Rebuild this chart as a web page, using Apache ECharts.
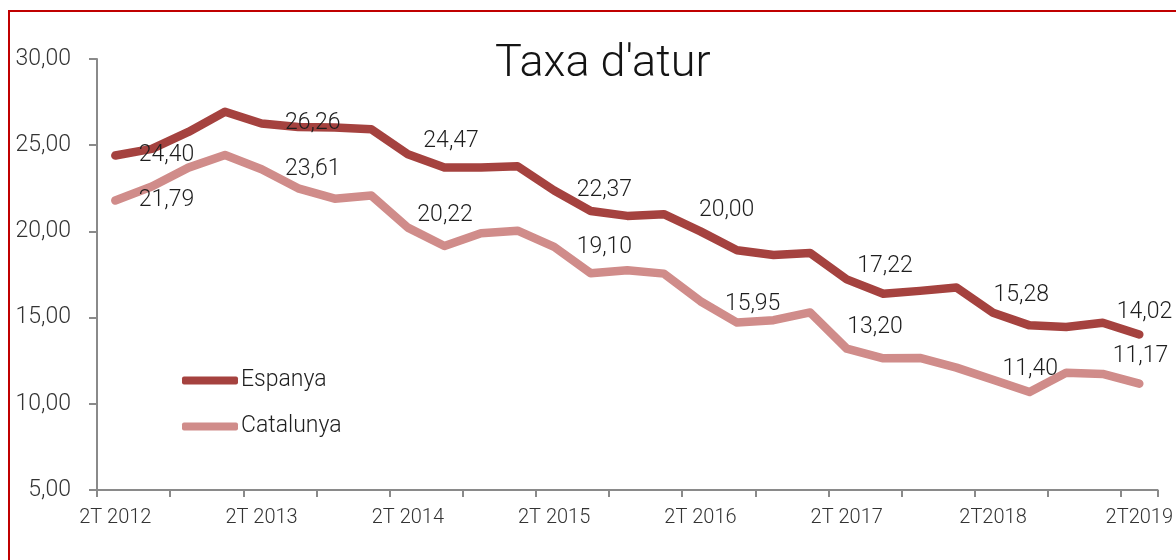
<!DOCTYPE html>
<html>
<head>
<meta charset="utf-8">
<script src="https://cdn.jsdelivr.net/npm/echarts@6/dist/echarts.min.js"></script>
<style>
  html, body { margin: 0; padding: 0; background: #fff; }
  #main { width: 1176px; height: 560px; }
</style>
</head>
<body>
<div id="main"></div>
<script>
// quarters from 2T 2012 to 2T 2019
var quarters = [
  "2T 2012", "3T 2012", "4T 2012", "1T 2013",
  "2T 2013", "3T 2013", "4T 2013", "1T 2014",
  "2T 2014", "3T 2014", "4T 2014", "1T 2015",
  "2T 2015", "3T 2015", "4T 2015", "1T 2016",
  "2T 2016", "3T 2016", "4T 2016", "1T 2017",
  "2T 2017", "3T 2017", "4T 2017", "1T2018",
  "2T2018", "3T2018", "4T2018", "1T2019",
  "2T2019"
];
var espanya = [
  24.40, 24.79, 25.77, 26.94,
  26.26, 26.06, 26.03, 25.93,
  24.47, 23.70, 23.70, 23.78,
  22.37, 21.18, 20.90, 21.00,
  20.00, 18.91, 18.63, 18.75,
  17.22, 16.38, 16.55, 16.74,
  15.28, 14.55, 14.45, 14.70,
  14.02
];
var catalunya = [
  21.79, 22.60, 23.70, 24.43,
  23.61, 22.50, 21.90, 22.08,
  20.22, 19.15, 19.89, 20.04,
  19.10, 17.57, 17.75, 17.55,
  15.95, 14.71, 14.85, 15.30,
  13.20, 12.64, 12.66, 12.10,
  11.40, 10.68, 11.80, 11.73,
  11.17
];
var yTicks = { min: 5, max: 30, step: 5 };

var FONT = "Roboto, 'Liberation Sans', sans-serif";

function fmt(v) {
  return v.toFixed(2).replace(".", ",");
}

// hand placed data labels (every 2T), shift of the label from its point
var labelShift = {
  Espanya: { 0: [23, 0], 4: [23, 0], 8: [15, -13], 12: [22, 0], 16: [-2, -21], 20: [10, -13], 24: [0, -18], 28: [-23, -22] },
  Catalunya: { 0: [23, 0], 4: [23, 0], 8: [9, -12], 12: [22, 0], 16: [24, 3], 20: [0, -21], 24: [9, -10], 28: [-27, -27] }
};

function buildData(name, values) {
  return values.map(function (v, i) {
    var s = labelShift[name][i];
    return {
      value: v,
      label: s ? { show: true, offset: s } : { show: false }
    };
  });
}

function lineSeries(name, values, color) {
  return {
    name: name,
    type: "line",
    data: buildData(name, values),
    symbol: "circle",
    symbolSize: 1,
    itemStyle: { color: color, opacity: 1, borderWidth: 0 },
    lineStyle: { color: color, width: 8.5, cap: "round", join: "round" },
    label: {
      position: "right",
      distance: 0,
      formatter: function (p) { return fmt(p.value); },
      fontFamily: FONT,
      fontWeight: 300,
      fontSize: 23,
      color: "#1e1e1e"
    },
    emphasis: { disabled: true },
    animation: false
  };
}

var chart = echarts.init(document.getElementById("main"), null, { renderer: "canvas" });

var option = {
  backgroundColor: "#ffffff",
  animation: false,
  title: {
    text: "Taxa d'atur",
    left: 490,
    top: 37,
    textStyle: {
      fontFamily: FONT,
      fontWeight: 300,
      fontSize: 45,
      color: "#141414"
    }
  },
  legend: {
    orient: "vertical",
    left: 182,
    top: 369,
    padding: 0,
    itemGap: 23,
    itemWidth: 56,
    itemHeight: 8,
    icon: "roundRect",
    data: ["Espanya", "Catalunya"],
    textStyle: {
      fontFamily: FONT,
      fontWeight: 300,
      fontSize: 23,
      color: "#1e1e1e",
      padding: [0, 0, 0, -2]
    }
  },
  grid: { left: 97, right: 18, top: 59, bottom: 70, containLabel: false },
  xAxis: {
    type: "category",
    data: quarters,
    boundaryGap: true,
    axisLine: { lineStyle: { color: "#8a8a8a", width: 2 } },
    axisTick: { show: true, interval: 1, length: 7, lineStyle: { color: "#8a8a8a", width: 2 } },
    axisLabel: {
      interval: 3,
      margin: 18,
      fontFamily: FONT,
      fontWeight: 300,
      fontSize: 20,
      color: "#333333"
    },
    splitLine: { show: false }
  },
  yAxis: {
    type: "value",
    min: yTicks.min,
    max: yTicks.max,
    interval: yTicks.step,
    axisLine: { show: true, lineStyle: { color: "#8a8a8a", width: 2 } },
    axisTick: { show: true, length: 8, lineStyle: { color: "#8a8a8a", width: 2 } },
    axisLabel: {
      margin: 26,
      formatter: function (v) { return fmt(v); },
      fontFamily: FONT,
      fontWeight: 300,
      fontSize: 23,
      color: "#333333"
    },
    splitLine: { show: false }
  },
  graphic: [
    {
      type: "rect",
      silent: true,
      shape: { x: 9, y: 11, width: 1300, height: 700 },
      style: { fill: "none", stroke: "#c00000", lineWidth: 2 }
    }
  ],
  series: [
    lineSeries("Espanya", espanya, "#a5423f"),
    lineSeries("Catalunya", catalunya, "#d08c8a")
  ]
};

chart.setOption(option);
</script>
</body>
</html>
